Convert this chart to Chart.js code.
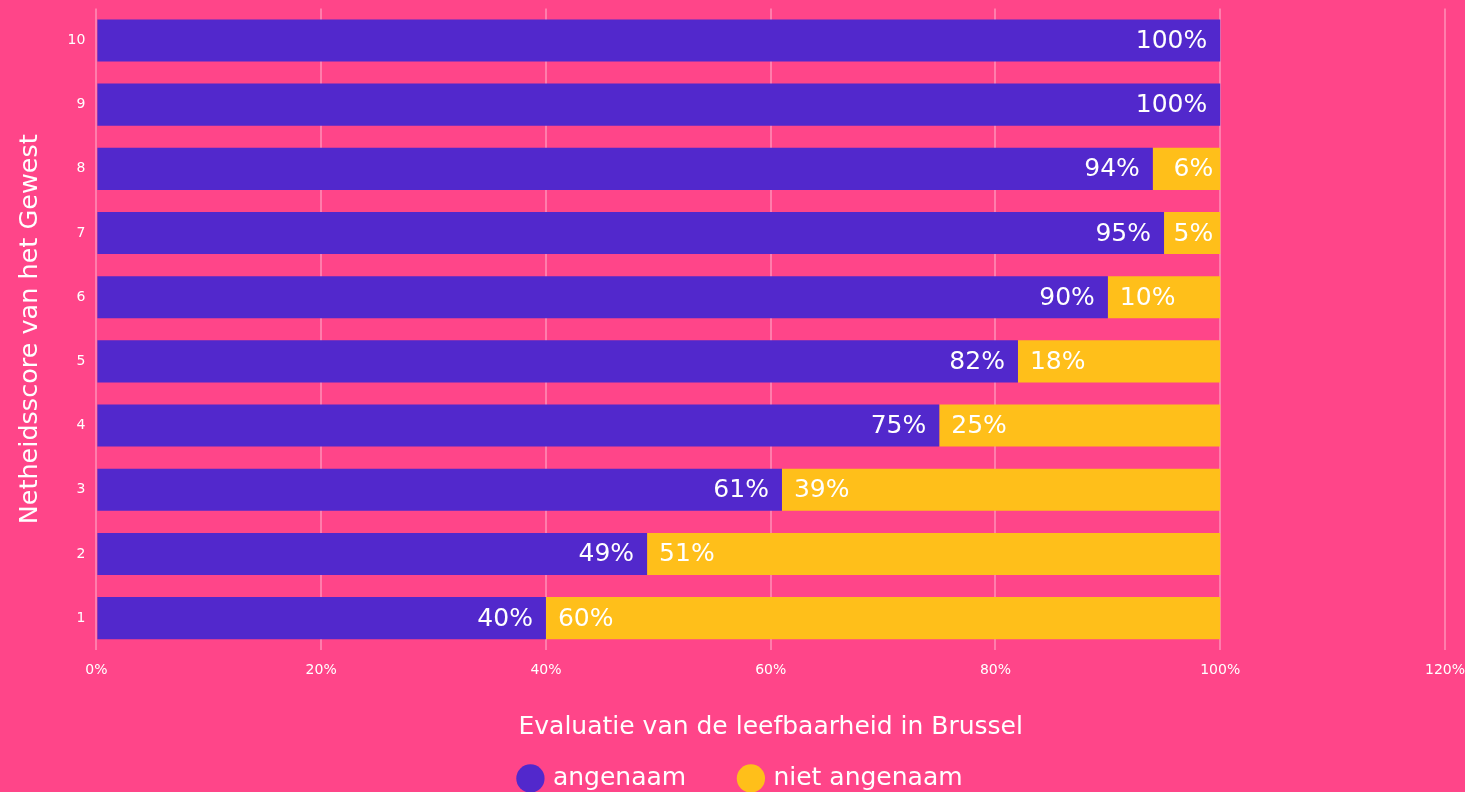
<!DOCTYPE html>
<html>
<head>
<meta charset="utf-8">
<script src="https://cdn.jsdelivr.net/npm/chart.js@4.4.1/dist/chart.umd.min.js"></script>
<style>
  html, body { margin: 0; padding: 0; background: #ff4589; overflow: hidden; }
  #wrap { width: 1465px; height: 801px; }
</style>
</head>
<body>
<div id="wrap"><canvas id="chart"></canvas></div>
<script>
// scores, top to bottom
const scores = ["10", "9", "8", "7", "6", "5", "4", "3", "2", "1"];
const pleasant = [100, 100, 94, 95, 90, 82, 75, 61, 49, 40];
const notPleasant = [0, 0, 6, 5, 10, 18, 25, 39, 51, 60];
const xTicks = [0, 20, 40, 60, 80, 100, 120];

const FONT = "'DejaVu Sans', sans-serif";
const WHITE = "#ffffff";

// draws the % labels inside the bars
const barLabels = {
  id: "barLabels",
  afterDatasetsDraw(chart) {
    const ctx = chart.ctx;
    ctx.save();
    ctx.font = "25px " + FONT;
    ctx.fillStyle = WHITE;
    ctx.textBaseline = "middle";
    ctx.textAlign = "left";
    chart.data.datasets.forEach((ds, i) => {
      const meta = chart.getDatasetMeta(i);
      meta.data.forEach((bar, j) => {
        const v = ds.data[j];
        if (!v) return;
        const txt = v + "%";
        const w = ctx.measureText(txt).width;
        const start = Math.min(bar.x, bar.base);
        const end = Math.max(bar.x, bar.base);
        let x;
        if (i === 0) {
          x = end - 13 - w;
        } else if (v < 10) {
          // single digit ones hug the right end
          x = end - 7 - w;
        } else {
          x = start + 12;
        }
        ctx.fillText(txt, x, bar.y + 1);
      });
    });
    ctx.restore();
  }
};

// legend sits a bit right of the canvas centre in the original
const legendShift = {
  id: "legendShift",
  afterUpdate(chart) {
    if (chart.legend) {
      chart.legend.left += 9;
      chart.legend.right += 9;
    }
  }
};

new Chart(document.getElementById("chart"), {
  type: "bar",
  data: {
    labels: scores,
    datasets: [
      {
        label: "angenaam",
        data: pleasant,
        backgroundColor: "#5228cc",
        barPercentage: 0.82,
        categoryPercentage: 0.8
      },
      {
        label: "niet angenaam",
        data: notPleasant,
        backgroundColor: "#ffbf1a",
        barPercentage: 0.82,
        categoryPercentage: 0.8
      }
    ]
  },
  options: {
    indexAxis: "y",
    responsive: true,
    maintainAspectRatio: false,
    animation: false,
    layout: { padding: 0 },
    scales: {
      x: {
        stacked: true,
        min: 0,
        max: 120,
        afterBuildTicks: axis => { axis.ticks = xTicks.map(v => ({ value: v })); },
        ticks: {
          color: WHITE,
          font: { family: FONT, size: 14 },
          padding: 0,
          callback: v => v + "%"
        },
        grid: {
          color: "rgba(255,255,255,0.3)",
          lineWidth: 2,
          drawTicks: true,
          tickLength: 12,
          tickColor: "rgba(0,0,0,0)"
        },
        border: { display: false },
        title: {
          display: true,
          text: "Evaluatie van de leefbaarheid in Brussel",
          color: WHITE,
          font: { family: FONT, size: 25 },
          padding: { top: 33, bottom: 14 }
        }
      },
      y: {
        stacked: true,
        ticks: {
          color: WHITE,
          font: { family: FONT, size: 14 },
          padding: 0
        },
        grid: {
          display: true,
          color: "rgba(0,0,0,0)",
          drawTicks: true,
          tickLength: 11,
          tickColor: "rgba(0,0,0,0)"
        },
        border: { display: false },
        title: {
          display: true,
          text: "Netheidsscore van het Gewest",
          color: WHITE,
          font: { family: FONT, size: 25.5 },
          padding: { top: 15, bottom: 22 }
        }
      }
    },
    plugins: {
      legend: {
        position: "bottom",
        labels: {
          color: WHITE,
          font: { family: FONT, size: 25 },
          usePointStyle: true,
          pointStyle: "circle",
          boxWidth: 20,
          boxHeight: 20,
          padding: 10,
          generateLabels: chart => {
            const items = Chart.defaults.plugins.legend.labels.generateLabels(chart);
            items[0].text += "     \u2009";
            return items;
          }
        }
      },
      tooltip: { enabled: false }
    }
  },
  plugins: [barLabels, legendShift]
});
</script>
</body>
</html>
